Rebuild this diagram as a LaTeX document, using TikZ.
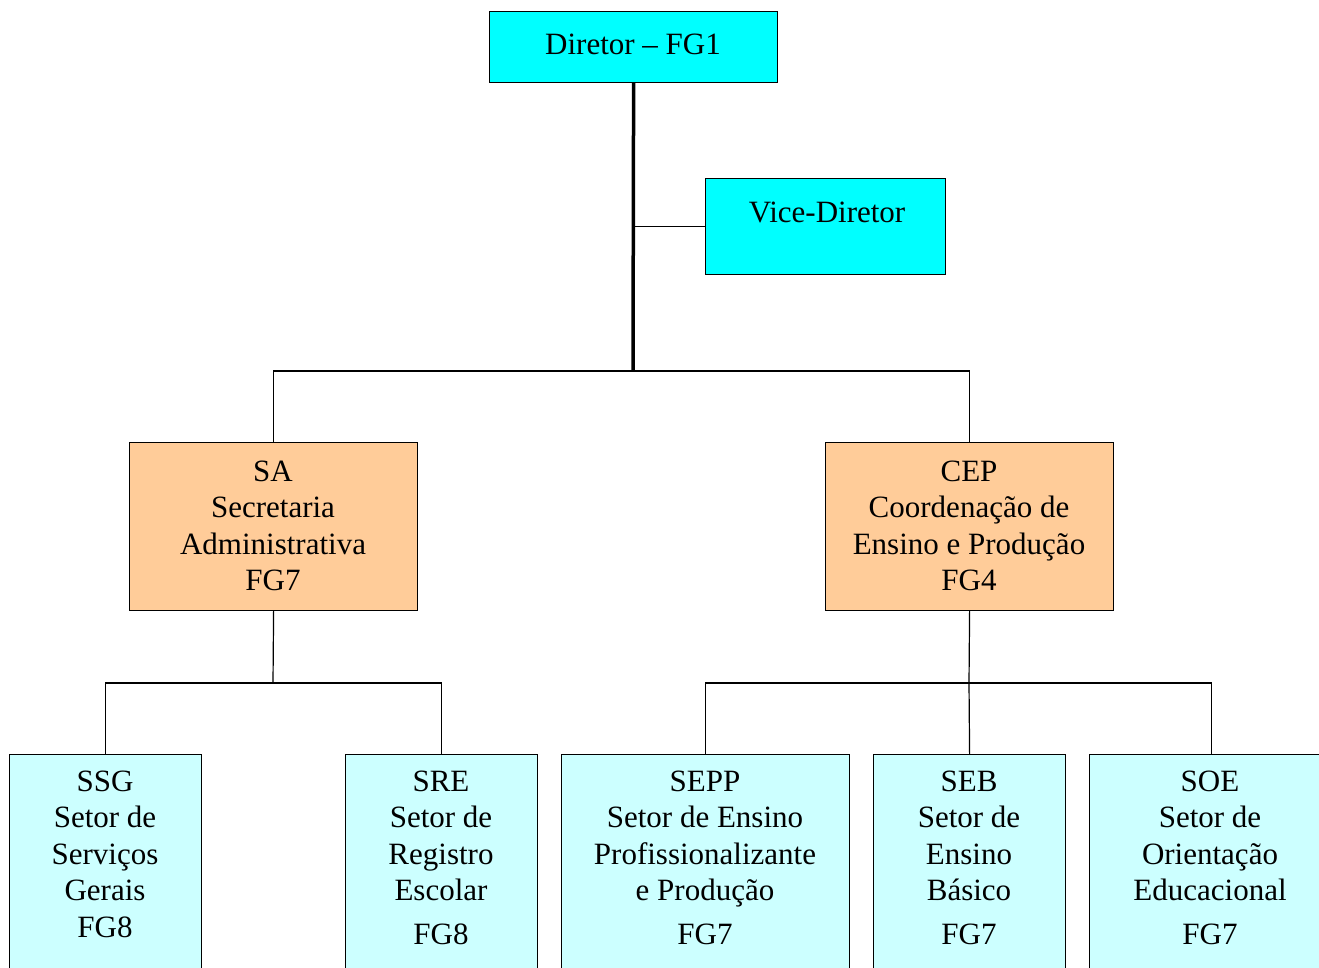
\documentclass[tikz,border=0pt]{standalone}
\usepackage{fontspec}
\setmainfont{Liberation Serif}
\definecolor{chiefcyan}{HTML}{00FFFF}
\definecolor{mgrorange}{HTML}{FFCC99}
\definecolor{sectcyan}{HTML}{CCFFFF}
% centred multi-line label whose baseline is the first line
\newcommand{\stack}[1]{\begin{tabular}[t]{@{}c@{}}#1\end{tabular}}
\begin{document}
\begin{tikzpicture}[x=1pt,y=-1pt,
  box/.style={draw, line width=1.2pt, anchor=north west, inner sep=0pt},
  topbox/.style={box, fill=chiefcyan},
  midbox/.style={box, fill=mgrorange},
  lowbox/.style={box, fill=sectcyan},
  lbl/.style={anchor=base, inner sep=0pt, font=\fontsize{31}{36.5}\selectfont},
  link/.style={line width=1.2pt},
  spine/.style={line width=3.5pt}]
\clip (0,0) rectangle (1319,967);
\fill[white] (0,0) rectangle (1319,967);

% boxes
\node[topbox, minimum width=288pt, minimum height=71pt] (dir) at (489,11) {};
\node[topbox, minimum width=240pt, minimum height=96pt] (vice) at (705,178) {};
\node[midbox, minimum width=288pt, minimum height=168pt] (sa) at (129,442) {};
\node[midbox, minimum width=288pt, minimum height=168pt] (cep) at (825,442) {};
\node[lowbox, minimum width=192pt, minimum height=260pt] (ssg) at (9,754) {};
\node[lowbox, minimum width=192pt, minimum height=260pt] (sre) at (345,754) {};
\node[lowbox, minimum width=288pt, minimum height=260pt] (sepp) at (561,754) {};
\node[lowbox, minimum width=192pt, minimum height=260pt] (seb) at (873,754) {};
\node[lowbox, minimum width=244pt, minimum height=260pt] (soe) at (1089,754) {};

% labels
\node[lbl] (dir-t) at (633,54) {Diretor – FG1};
\node[lbl] (vice-t) at (827,222) {Vice-Diretor};
\node[lbl] (sa-t) at (273,481) {\stack{SA\\Secretaria\\Administrativa\\FG7}};
\node[lbl] (cep-t) at (969,481) {\stack{CEP\\Coordenação de\\Ensino e Produção\\FG4}};
\node[lbl] (ssg-t) at (105,791) {\stack{SSG\\Setor de\\Serviços\\Gerais\\FG8}};
\node[lbl] (sre-t) at (441,791) {\stack{SRE\\Setor de\\Registro\\Escolar\\[7pt]FG8}};
\node[lbl] (sepp-t) at (705,791) {\stack{SEPP\\Setor de Ensino\\Profissionalizante\\e Produção\\[7pt]FG7}};
\node[lbl] (seb-t) at (969,791) {\stack{SEB\\Setor de\\Ensino\\Básico\\[7pt]FG7}};
\node[lbl] (soe-t) at (1210,791) {\stack{SOE\\Setor de\\Orientação\\Educacional\\[7pt]FG7}};

% junction points
\coordinate (hub) at (633,371);
\coordinate (sabus) at (273,683);
\coordinate (cepbus) at (969,683);

% connectors
\draw[spine] (dir.south) -- (hub);
\draw[link] (vice.west) -- (vice.west -| dir.south);
\draw[link] (sa.north) |- (hub) -| (cep.north);
\draw[link] (sa.south) -- (sabus);
\draw[link] (ssg.north) |- (sabus) -| (sre.north);
\draw[link] (cep.south) -- (cepbus);
\draw[link] (sepp.north) |- (cepbus) -| (soe.north);
\draw[link] (seb.north) -- (cepbus);
\end{tikzpicture}
\end{document}
